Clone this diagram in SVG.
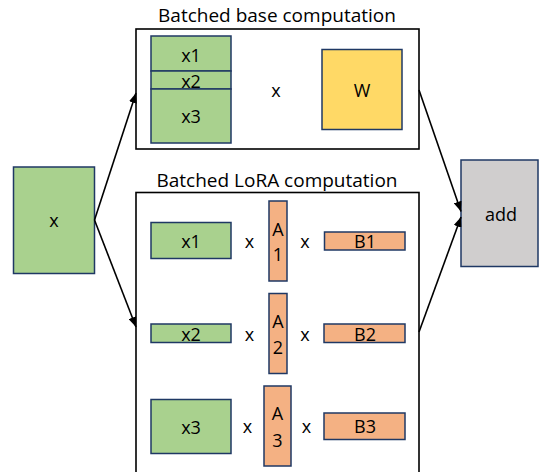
<svg xmlns="http://www.w3.org/2000/svg" width="539" height="472" viewBox="0 0 539 472">
<style>
text{font-family:"Open Sans","Noto Sans","Liberation Sans",sans-serif;font-size:18px;fill:#000;text-anchor:middle}
.title{font-size:19px}
.box{fill:none;stroke:#000;stroke-width:1.6}
.g{fill:#a9d18e;stroke:#1f3864;stroke-width:1.5}
.o{fill:#f4b183;stroke:#1f3864;stroke-width:1.5}
.y{fill:#ffd966;stroke:#1f3864;stroke-width:1.5}
.gr{fill:#d0cece;stroke:#1f3864;stroke-width:1.5}
.c{fill:none;stroke:#000;stroke-width:1.6}
</style>
<defs>
<marker id="ah" viewBox="0 0 10 8" refX="10" refY="4" markerWidth="10" markerHeight="8" orient="auto" markerUnits="userSpaceOnUse">
<path d="M0,0 L10,4 L0,8 z" fill="#000"/>
</marker>
</defs>
<g id="base">
<text class="title" x="277" y="21.5">Batched base computation</text>
<rect class="box" x="136" y="29" width="283" height="120"/>
<g id="base-x1"><rect class="g" x="151" y="36" width="80" height="35"/><text x="191" y="61.5">x1</text></g>
<g id="base-x2"><rect class="g" x="151" y="71" width="80" height="18"/><text x="191" y="88.3">x2</text></g>
<g id="base-x3"><rect class="g" x="151" y="89" width="80" height="54"/><text x="191" y="123">x3</text></g>
<text x="276" y="96.5">x</text>
<g id="base-W"><rect class="y" x="322" y="49.5" width="80" height="80"/><text x="362" y="96.5">W</text></g>
</g>
<g id="lora">
<text class="title" x="277" y="186.5">Batched LoRA computation</text>
<rect class="box" x="136" y="192.5" width="283" height="290"/>
<g id="row1">
<rect class="g" x="151" y="222.5" width="80" height="36"/><text x="191" y="247.5">x1</text>
<text x="249.5" y="247.5">x</text>
<rect class="o" x="269" y="201" width="18" height="80"/><text x="278" y="235.5">A</text><text x="278" y="260.5">1</text>
<text x="305" y="247.5">x</text>
<rect class="o" x="324.5" y="232" width="80.5" height="18"/><text x="365" y="248">B1</text>
</g>
<g id="row2">
<rect class="g" x="151" y="324" width="80" height="18.5"/><text x="191" y="340.5">x2</text>
<text x="249.5" y="340.5">x</text>
<rect class="o" x="269" y="293.5" width="18" height="80"/><text x="278" y="328">A</text><text x="278" y="354">2</text>
<text x="305" y="340.5">x</text>
<rect class="o" x="324" y="324" width="81" height="18.5"/><text x="365" y="340.5">B2</text>
</g>
<g id="row3">
<rect class="g" x="151" y="399.5" width="80" height="54"/><text x="191" y="434">x3</text>
<text x="247.5" y="433.3">x</text>
<rect class="o" x="264" y="386" width="27" height="80"/><text x="277.5" y="420">A</text><text x="277.5" y="446.5">3</text>
<text x="306.5" y="433.3">x</text>
<rect class="o" x="324" y="413" width="81" height="26.5"/><text x="365" y="433.3">B3</text>
</g>
</g>
<g id="x">
<rect class="g" x="13.5" y="167" width="81" height="106.5"/><text x="54" y="226.5">x</text>
</g>
<g id="add">
<rect class="gr" x="461" y="160" width="77" height="106.5"/><text x="501" y="220.5">add</text>
</g>
<g id="connectors">
<line class="c" x1="94.5" y1="220" x2="136" y2="93" marker-end="url(#ah)"/>
<line class="c" x1="94.5" y1="220" x2="136" y2="327" marker-end="url(#ah)"/>
<line class="c" x1="419" y1="90" x2="461" y2="211.5" marker-end="url(#ah)"/>
<line class="c" x1="419" y1="332" x2="461" y2="217" marker-end="url(#ah)"/>
</g>
</svg>
